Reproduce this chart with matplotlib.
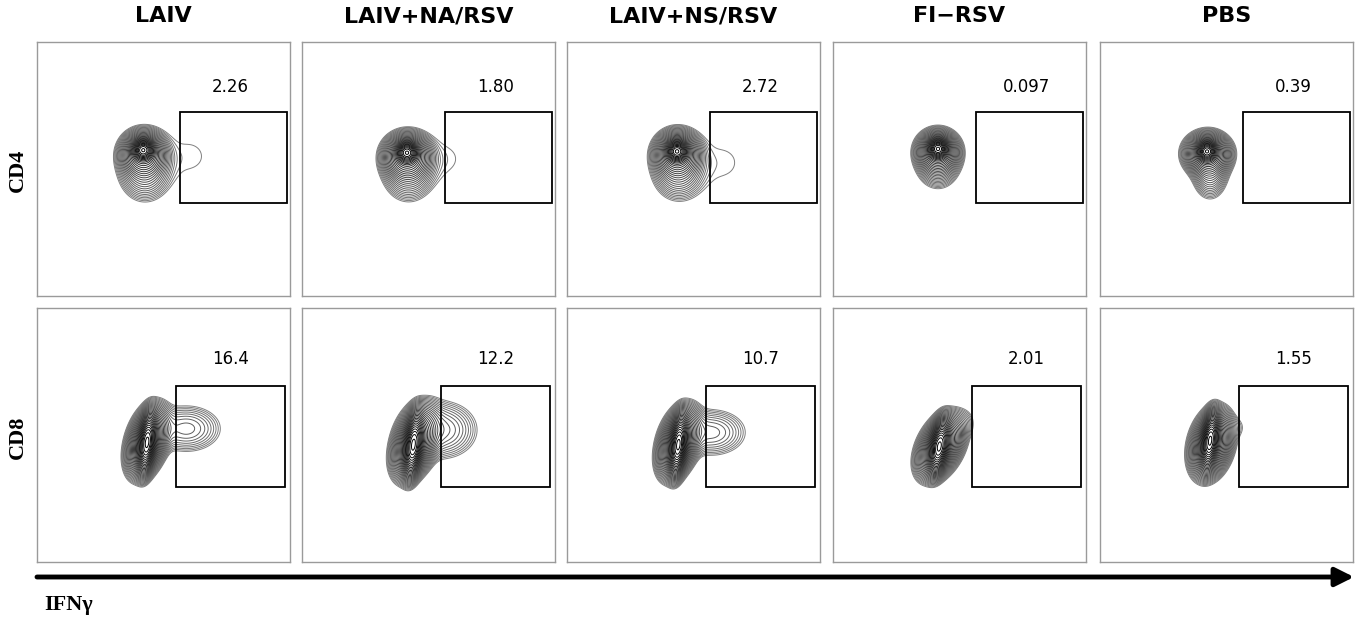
import numpy as np
import matplotlib
matplotlib.use("Agg")
import matplotlib.pyplot as plt
from matplotlib.patches import Rectangle

# groups (columns) and gated percentages
groups = ["LAIV", "LAIV+NA/RSV", "LAIV+NS/RSV", "FI\u2212RSV", "PBS"]
rows = ["CD4", "CD8"]
cd4_pct = ["2.26", "1.80", "2.72", "0.097", "0.39"]
cd8_pct = ["16.4", "12.2", "10.7", "2.01", "1.55"]

# IFNg+ gates per row: (x0, y0, x1, y1) in panel units
cd4_gate = (0.567, 0.368, 0.987, 0.723)
cd8_gate = (0.548, 0.295, 0.982, 0.693)

# cell populations: (cx, cy, sx, sy, rho, weight)
cd4_pops = [
    [(0.42, 0.575, 0.019, 0.019, 0.0, 1.0), (0.42, 0.56, 0.040, 0.040, 0.0, 0.25),
     (0.425, 0.50, 0.050, 0.060, 0.0, 0.05), (0.60, 0.55, 0.105, 0.095, 0.0, 0.0056)],
    [(0.415, 0.565, 0.019, 0.019, 0.0, 1.0), (0.415, 0.55, 0.042, 0.040, 0.0, 0.25),
     (0.42, 0.50, 0.050, 0.060, 0.0, 0.05), (0.565, 0.54, 0.085, 0.080, 0.0, 0.0056)],
    [(0.435, 0.57, 0.019, 0.019, 0.0, 1.0), (0.435, 0.56, 0.040, 0.040, 0.0, 0.25),
     (0.44, 0.50, 0.050, 0.058, 0.0, 0.05), (0.61, 0.525, 0.110, 0.100, 0.0, 0.0056)],
    [(0.415, 0.58, 0.018, 0.018, 0.0, 1.0), (0.415, 0.57, 0.037, 0.036, 0.0, 0.25),
     (0.415, 0.53, 0.042, 0.050, 0.0, 0.05)],
    [(0.423, 0.57, 0.018, 0.018, 0.0, 1.0), (0.425, 0.56, 0.041, 0.037, 0.0, 0.25),
     (0.435, 0.50, 0.035, 0.055, 0.0, 0.05)],
]
cd8_pops = [
    [(0.435, 0.47, 0.016, 0.050, 0.3, 1.0), (0.435, 0.475, 0.036, 0.060, 0.35, 0.3),
     (0.59, 0.525, 0.075, 0.050, 0.0, 0.025)],
    [(0.44, 0.46, 0.017, 0.052, 0.3, 1.0), (0.445, 0.47, 0.039, 0.062, 0.35, 0.3),
     (0.55, 0.52, 0.075, 0.060, 0.0, 0.03)],
    [(0.44, 0.46, 0.016, 0.050, 0.3, 1.0), (0.44, 0.47, 0.036, 0.060, 0.35, 0.3),
     (0.57, 0.51, 0.075, 0.050, 0.0, 0.025)],
    [(0.42, 0.455, 0.018, 0.045, 0.35, 1.0), (0.425, 0.455, 0.041, 0.055, 0.4, 0.3),
     (0.53, 0.55, 0.025, 0.035, 0.0, 0.005)],
    [(0.435, 0.48, 0.016, 0.046, 0.3, 1.0), (0.44, 0.465, 0.037, 0.058, 0.25, 0.3),
     (0.545, 0.53, 0.025, 0.028, 0.0, 0.005)],
]

W, H = 1361, 617
col_left = [37, 302, 567, 833, 1100]
row_top = [42, 308]
pw, ph = 253, 254

fig = plt.figure(figsize=(W / 100, H / 100), dpi=100)
fig.patch.set_facecolor("white")

gx = np.linspace(0, 1, 500)
X, Y = np.meshgrid(gx, gx)


def density(pops):
    z = np.zeros_like(X)
    for cx, cy, sx, sy, rho, w in pops:
        dx = (X - cx) / sx
        dy = (Y - cy) / sy
        q = (dx ** 2 - 2 * rho * dx * dy + dy ** 2) / (1 - rho ** 2)
        z += w * np.exp(-0.5 * q)
    return z


# log-spaced contour levels (same for every panel)
n_lev = 30
levels = np.geomspace(0.005, 1.2, n_lev)
line_cols = plt.cm.gray(np.linspace(0.5, 0.0, n_lev))

for r, (pops_row, pct_row, gate) in enumerate([(cd4_pops, cd4_pct, cd4_gate),
                                               (cd8_pops, cd8_pct, cd8_gate)]):
    for c in range(len(groups)):
        left = col_left[c] / W
        bottom = 1 - (row_top[r] + ph) / H
        ax = fig.add_axes([left, bottom, pw / W, ph / H])
        z = density(pops_row[c])
        ax.contour(X, Y, z, levels=levels, colors=line_cols, linewidths=0.7)
        x0, y0, x1, y1 = gate
        ax.add_patch(Rectangle((x0, y0), x1 - x0, y1 - y0, fill=False,
                               edgecolor="black", lw=1.3, zorder=5))
        ty = 0.822 if r == 0 else 0.80
        ax.text(0.765, ty, pct_row[c], ha="center", va="center",
                fontsize=12, family="DejaVu Sans")
        ax.set_xlim(0, 1)
        ax.set_ylim(0, 1)
        ax.set_xticks([])
        ax.set_yticks([])
        for s in ax.spines.values():
            s.set_edgecolor("#9a9a9a")
            s.set_linewidth(1.0)

# overlay in pixel units for titles, labels and the IFNg arrow
ov = fig.add_axes([0, 0, 1, 1], facecolor="none")
ov.set_xlim(0, W)
ov.set_ylim(H, 0)
ov.axis("off")

for c, g in enumerate(groups):
    ov.text(col_left[c] + pw / 2, 16, g, ha="center", va="center",
            fontsize=16, fontweight="bold", family="DejaVu Sans")

ov.text(18, 170, rows[0], rotation=90, ha="center", va="center",
        fontsize=16, fontweight="bold", family="Liberation Serif")
ov.text(18, 437, rows[1], rotation=90, ha="center", va="center",
        fontsize=16, fontweight="bold", family="Liberation Serif")

ov.annotate("", xy=(1354, 577), xytext=(37, 577),
            arrowprops=dict(arrowstyle="-|>", lw=3.5, color="black",
                            mutation_scale=28, shrinkA=0, shrinkB=0))
ov.text(44, 605, "IFN\u03b3", ha="left", va="center",
        fontsize=16, fontweight="bold", family="Liberation Serif")

fig.savefig("out.png", dpi=100, facecolor="white")
